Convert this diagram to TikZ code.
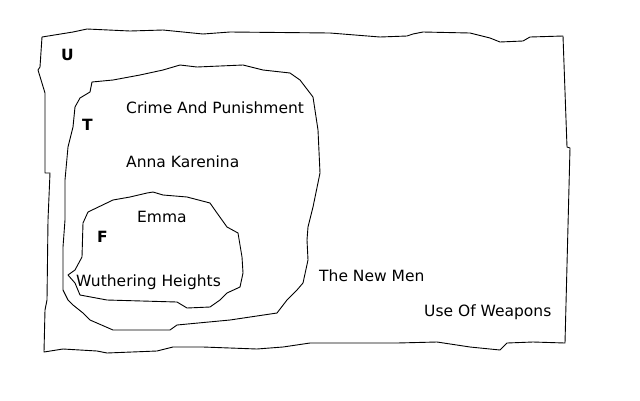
\documentclass[tikz,border=0pt]{standalone}
\usepackage{fontspec}
\setmainfont{DejaVu Sans}
\begin{document}
\begin{tikzpicture}[x=1pt,y=-1pt,
  outline/.style={draw=black,line width=0.9pt,line join=round},
  lbl/.style={anchor=base west,inner sep=0pt,font=\fontsize{15.5}{18}\selectfont},
  setname/.style={anchor=base west,inner sep=0pt,font=\fontsize{15.5}{18}\selectfont\bfseries}]
\useasboundingbox[fill=white] (0,0) rectangle (640,400);
% U
\draw[outline] (42,37) -- (73,32) -- (87,29) -- (130,31) -- (163,30) -- (203,34) -- (230,32) -- (330,33) -- (380,37) -- (407,36) -- (413,34) -- (423,32) -- (470,33) -- (490,38) -- (500,42) -- (523,41) -- (530,37) -- (563,36)
  -- (567,147) -- (570,148) -- (565,343)
  -- (533,342) -- (507,343) -- (500,350) -- (470,347) -- (437,342) -- (397,343) -- (330,343) -- (310,343) -- (283,347) -- (257,349) -- (203,347) -- (173,347) -- (157,351) -- (107,353) -- (97,351) -- (63,349) -- (44,352)
  -- (45,310) -- (47,300) -- (48,220) -- (50,173) -- (45,173) -- (45,93) -- (38,70) -- (40,67) -- cycle;
% T
\draw[outline] (92,82) -- (113,80) -- (140,75) -- (163,70) -- (180,65) -- (197,67) -- (243,65) -- (263,70) -- (290,73) -- (300,80) -- (313,97) -- (318,130) -- (320,173) -- (313,207) -- (308,227) -- (307,240) -- (308,260) -- (303,283) -- (297,290) -- (287,300) -- (277,313) -- (230,320) -- (177,325) -- (170,330) -- (113,330) -- (90,320) -- (83,313) -- (73,305) -- (68,300) -- (63,290) -- (63,247) -- (65,220) -- (65,180) -- (68,147) -- (73,127) -- (75,107) -- (80,98) -- (90,92) -- cycle;
% F
\draw[outline] (153,192) -- (147,193) -- (130,197) -- (113,200) -- (88,212) -- (83,223) -- (82,257) -- (75,270) -- (68,275) -- (75,283) -- (80,295) -- (107,300) -- (177,302) -- (187,308) -- (210,307) -- (220,300) -- (227,293) -- (240,287) -- (243,273) -- (242,257) -- (238,233) -- (227,227) -- (217,213) -- (210,203) -- (187,197) -- (163,195) -- cycle;
% labels
\node[setname] (u) at (61,60) {U};
\node[setname] (t) at (82,130) {T};
\node[setname] (f) at (97,242) {F};
\node[lbl] (crime) at (126,113) {Crime And Punishment};
\node[lbl] (anna) at (126,167) {Anna Karenina};
\node[lbl] (emma) at (137,222) {Emma};
\node[lbl] (wuth) at (76,286) {Wuthering Heights};
\node[lbl] (newmen) at (319,281) {The New Men};
\node[lbl] (weapons) at (424,316) {Use Of Weapons};
\end{tikzpicture}
\end{document}
